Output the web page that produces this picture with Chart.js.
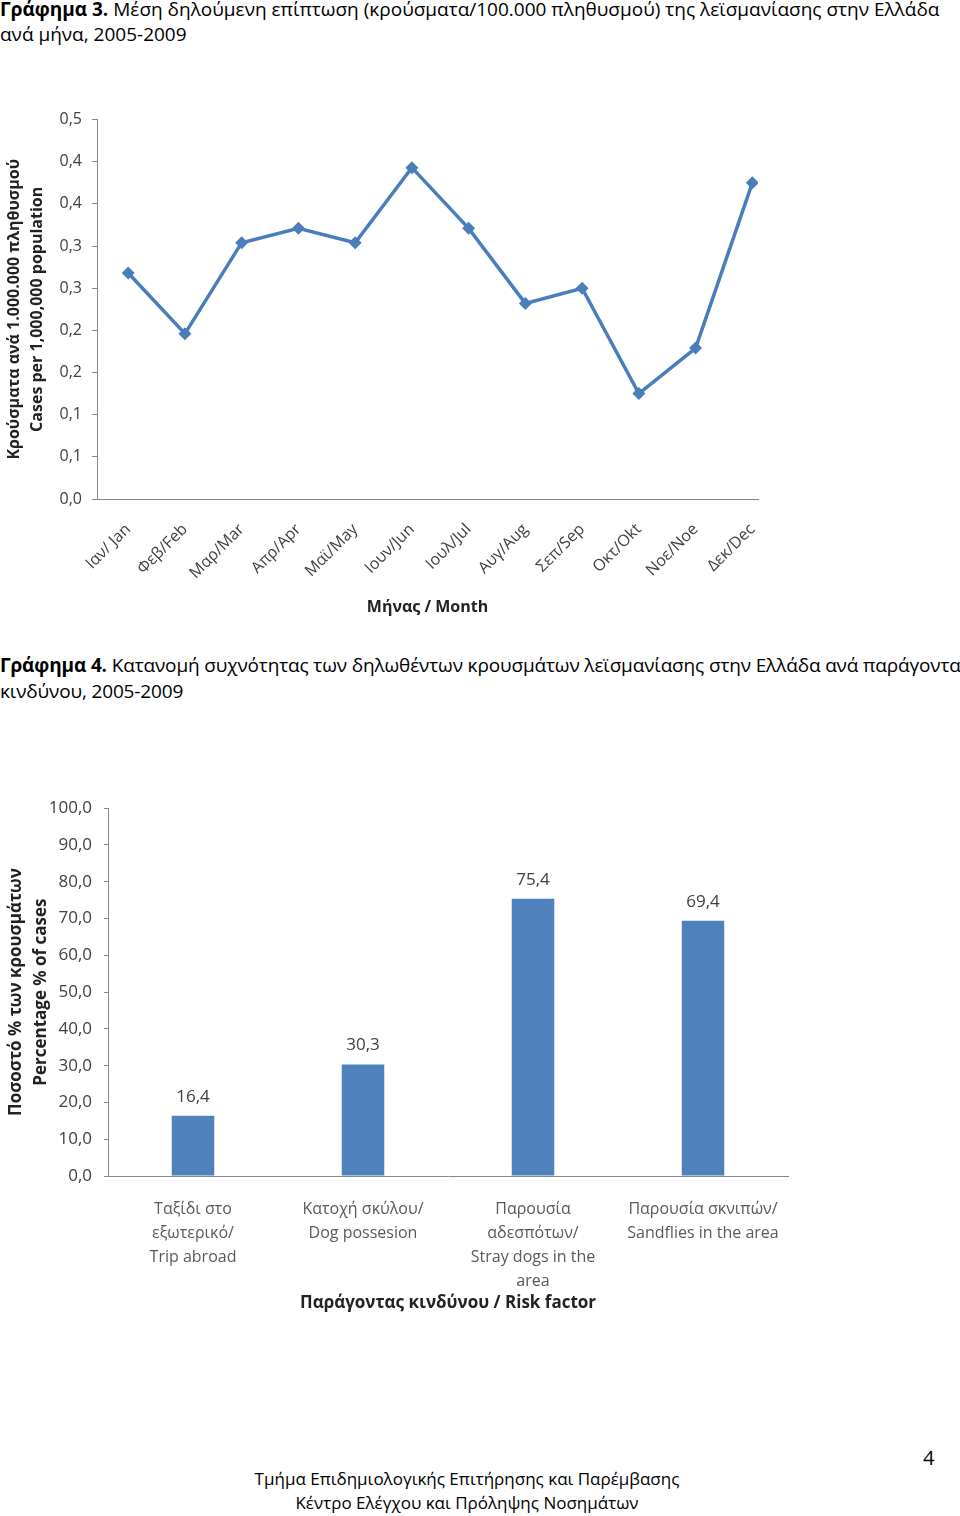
<!DOCTYPE html>
<html>
<head>
<meta charset="utf-8">
<script src="https://cdn.jsdelivr.net/npm/chart.js@4.4.0/dist/chart.umd.min.js"></script>
<style>
  body { margin: 0; width: 960px; height: 1516px; background: #fff; position: relative; overflow: hidden;
         font-family: "Open Sans", sans-serif; color: #000; }
  .txt { position: absolute; white-space: nowrap; }
  .cap { left: 0; font-size: 19px; }
  .box { position: absolute; left: 0; }
</style>
</head>
<body>
<div class="txt cap" style="top:-3px; line-height:25px;"><b>Γράφημα 3.</b> Μέση δηλούμενη επίπτωση (κρούσματα/100.000 πληθυσμού) της λεϊσμανίασης στην Ελλάδα<br>ανά μήνα, 2005-2009</div>

<div class="box" style="top:100px; width:790px; height:517px;"><canvas id="month-chart"></canvas></div>

<div class="txt cap" style="top:652px; line-height:26px; letter-spacing:-0.14px;"><b>Γράφημα 4.</b> Κατανομή συχνότητας των δηλωθέντων κρουσμάτων λεϊσμανίασης στην Ελλάδα ανά παράγοντα<br>κινδύνου, 2005-2009</div>

<div class="box" style="top:786px; width:800px; height:527px;"><canvas id="risk-chart"></canvas></div>

<div class="txt" style="left:923px; top:1444px; font-size:20px; line-height:28px;">4</div>
<div class="txt" style="left:0; width:934px; top:1467px; font-size:17px; line-height:24px; text-align:center;">Τμήμα Επιδημιολογικής Επιτήρησης και Παρέμβασης<br>Κέντρο Ελέγχου και Πρόληψης Νοσημάτων</div>

<script>
// Γράφημα 3 - κρούσματα ανά μήνα
const months = ['Ιαν/ Jan', 'Φεβ/Feb', 'Μαρ/Mar', 'Απρ/Apr', 'Μαϊ/May', 'Ιουν/Jun',
                'Ιουλ/Jul', 'Αυγ/Aug', 'Σεπ/Sep', 'Οκτ/Okt', 'Νοε/Noe', 'Δεκ/Dec'];
const monthRates = [0.268, 0.196, 0.304, 0.321, 0.304, 0.393, 0.321, 0.232, 0.250, 0.125, 0.179, 0.375];

// Γράφημα 4 - παράγοντες κινδύνου
const riskFactors = [
    ['Ταξίδι στο', 'εξωτερικό/', 'Trip abroad'],
    ['Κατοχή σκύλου/', 'Dog possesion'],
    ['Παρουσία', 'αδεσπότων/', 'Stray dogs in the', 'area'],
    ['Παρουσία σκνιπών/', 'Sandflies in the area']
];
const riskPercent = [16.4, 30.3, 75.4, 69.4];

const axisGrey = '#868686';
const tickGrey = '#404040';

Chart.defaults.font.family = '"Open Sans", sans-serif';
Chart.defaults.animation = false;
Chart.defaults.plugins.legend.display = false;
Chart.defaults.plugins.tooltip.enabled = false;
Chart.defaults.maintainAspectRatio = false;

// excel style one decimal with comma, half rounded up
function fmt1(v) {
    return (Math.round(v * 10 + 1e-6) / 10).toFixed(1).replace('.', ',');
}

new Chart(document.getElementById('month-chart'), {
    type: 'line',
    data: {
        datasets: [{
            data: monthRates.map((v, i) => ({ x: i, y: v })),
            borderColor: '#4a7ebb',
            backgroundColor: '#4a7ebb',
            borderWidth: 3.5,
            pointStyle: 'rectRot',
            pointRadius: 6.5,
            pointBorderWidth: 0,
            tension: 0
        }]
    },
    options: {
        layout: { padding: { top: 19, right: 32, left: 0, bottom: 0 } },
        scales: {
            x: {
                type: 'linear',
                min: -0.55,
                max: 11.1,
                afterBuildTicks: (axis) => { axis.ticks = months.map((m, i) => ({ value: i })); },
                afterFit: (scale) => { scale.height = 118; },
                grid: { display: false },
                border: { color: axisGrey, width: 1 },
                ticks: {
                    autoSkip: false,
                    minRotation: 45,
                    maxRotation: 45,
                    padding: 13,
                    color: tickGrey,
                    font: { size: 16 },
                    callback: (v) => months[v]
                },
                title: {
                    display: true,
                    text: 'Μήνας / Month',
                    color: '#222',
                    font: { size: 16, weight: 'bold', lineHeight: 1.2 },
                    padding: { top: 4, bottom: 0 }
                }
            },
            y: {
                min: 0,
                max: 0.45,
                afterFit: (scale) => { scale.width = 97; },
                grid: { drawOnChartArea: false, tickLength: 5, color: axisGrey },
                border: { color: axisGrey, width: 1 },
                ticks: {
                    stepSize: 0.05,
                    padding: 10,
                    color: tickGrey,
                    font: { size: 16 },
                    callback: (v) => fmt1(v)
                },
                title: {
                    display: true,
                    text: ['Κρούσματα ανά 1.000.000 πληθυσμού', 'Cases per 1,000,000 population'],
                    color: '#222',
                    font: { size: 16, weight: 'bold', lineHeight: 1.45 },
                    padding: { top: 3, bottom: 0 }
                }
            }
        }
    }
});

// τιμές πάνω από τις μπάρες
const barLabels = {
    id: 'barLabels',
    afterDatasetsDraw(chart) {
        const ctx = chart.ctx;
        const meta = chart.getDatasetMeta(0);
        ctx.save();
        ctx.font = '17px "Open Sans", sans-serif';
        ctx.fillStyle = tickGrey;
        ctx.textAlign = 'center';
        ctx.textBaseline = 'middle';
        meta.data.forEach((bar, i) => {
            ctx.fillText(fmt1(riskPercent[i]), bar.x, bar.y - 19);
        });
        ctx.restore();
    }
};

new Chart(document.getElementById('risk-chart'), {
    type: 'bar',
    data: {
        labels: riskFactors,
        datasets: [{
            data: riskPercent,
            backgroundColor: '#4f81bd',
            categoryPercentage: 1,
            barPercentage: 0.25
        }]
    },
    options: {
        layout: { padding: { top: 13, right: 12, left: 0, bottom: 0 } },
        scales: {
            x: {
                afterFit: (scale) => { scale.height = 137; },
                grid: { display: false },
                border: { color: axisGrey, width: 1 },
                ticks: {
                    autoSkip: false,
                    maxRotation: 0,
                    padding: 13,
                    color: '#595959',
                    font: { size: 16, lineHeight: 1.5 }
                },
                title: {
                    display: true,
                    text: 'Παράγοντας κινδύνου / Risk factor',
                    color: '#222',
                    font: { size: 17, weight: 'bold', lineHeight: 1.2 },
                    padding: { top: 4, bottom: 0 }
                }
            },
            y: {
                min: 0,
                max: 100,
                afterFit: (scale) => { scale.width = 108; },
                grid: { drawOnChartArea: false, tickLength: 4, color: axisGrey },
                border: { color: axisGrey, width: 1 },
                ticks: {
                    stepSize: 10,
                    padding: 12,
                    color: tickGrey,
                    font: { size: 17 },
                    callback: (v) => fmt1(v)
                },
                title: {
                    display: true,
                    text: ['Ποσοστό % των κρουσμάτων', 'Percentage % of cases'],
                    color: '#222',
                    font: { size: 17, weight: 'bold', lineHeight: 1.47 },
                    padding: { top: 4, bottom: 0 }
                }
            }
        }
    },
    plugins: [barLabels]
});
</script>
</body>
</html>
